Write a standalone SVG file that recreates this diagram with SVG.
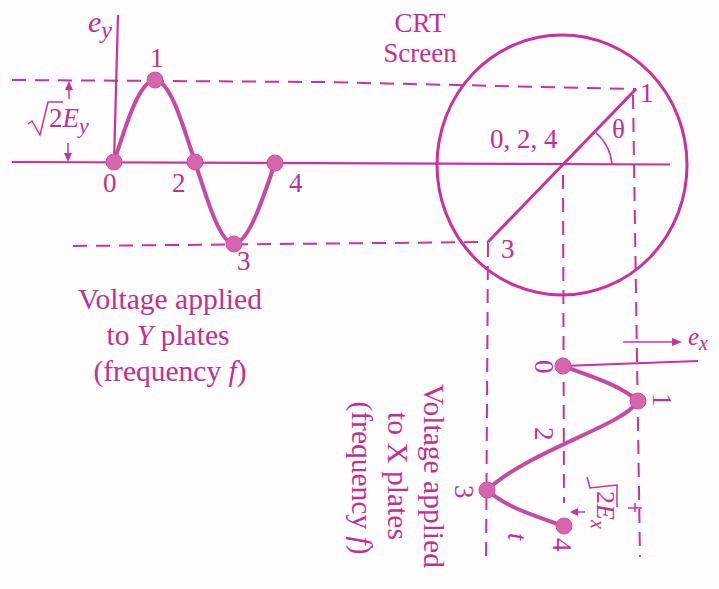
<svg xmlns="http://www.w3.org/2000/svg" width="719" height="589" viewBox="0 0 719 589">
<style>
text{font-family:"Liberation Serif",serif;fill:#c03090;font-size:27px}
.i{font-style:italic}
.m{text-anchor:middle}
.b{font-size:29.500px}
.l{fill:none;stroke:#c9329a;stroke-width:2.2}
.t{fill:none;stroke:#c9329a;stroke-width:1.5}
.d{fill:none;stroke:#c9329a;stroke-width:2;stroke-dasharray:14 9}
.w{fill:none;stroke:#c74aa2;stroke-width:4}
.c{fill:#d765ac;stroke:#cf4fa3;stroke-width:1}
.h{fill:#c9329a}
</style>
<rect width="719" height="589" fill="#fffdfe"/>
<g id="connectors">
<path class="l" d="M12 162L670 164.500"/>
<path class="l" d="M118 15L114 162"/>
<path class="d" d="M12 80L320 82L636 89"/>
<path class="d" d="M73 246L488 242"/>
<path class="d" d="M488 243L486 565"/>
<path class="d" d="M563 175L564 503"/>
<path class="d" d="M633 95L640 557"/>
<path class="l" style="stroke-width:3" d="M636 89L488 242"/>
<path class="t" d="M596 133A47 47 0 0 1 612 164"/>
<path class="t" d="M69 99V84M68 143V160"/>
<path class="h" d="M69 81l-4 9h8zM68 162l-4-9h8z"/>
<path class="t" d="M623 342H674"/>
<path class="h" d="M682 342l-10-4v8z"/>
<path class="l" d="M563 366L698 361"/>
<path class="t" d="M575 512H585M628 508h14M635 503v9"/>
<path class="h" d="M570 512l8-4v8z"/>
</g>
<g id="crt-screen">
<ellipse class="l" style="stroke-width:3" cx="562" cy="165" rx="125" ry="130"/>
<text class="m" x="420" y="32">CRT</text>
<text class="m" x="420" y="62">Screen</text>
<text x="490" y="148">0, 2, 4</text>
<text x="612" y="138">θ</text>
<text x="640" y="102">1</text>
<text x="501" y="258">3</text>
</g>
<g id="y-wave">
<path class="w" d="M114 162C128 118 140 81 155 80C170 81 182 122 195 162C208 202 220 243 234 244C248 243 262 202 275 163"/>
<circle class="c" cx="114" cy="162" r="8"/>
<circle class="c" cx="155" cy="80" r="8"/>
<circle class="c" cx="195" cy="162" r="8"/>
<circle class="c" cx="234" cy="244" r="8"/>
<circle class="c" cx="275" cy="163" r="8"/>
<text x="103" y="192">0</text>
<text x="150" y="67">1</text>
<text x="172" y="192">2</text>
<text x="237" y="270">3</text>
<text x="289" y="192">4</text>
<text class="i" x="88" y="32" style="font-size:30px">e<tspan dy="6" style="font-size:24px">y</tspan></text>
<text x="49" y="127"><tspan>2</tspan><tspan class="i">E</tspan><tspan class="i" dy="6" style="font-size:22px">y</tspan></text>
<path class="t" d="M28 124l4-3 8 14 8-33h15"/>
</g>
<g id="y-label">
<text class="m b" x="170" y="309">Voltage applied</text>
<text class="m b" x="168" y="345">to <tspan class="i">Y</tspan> plates</text>
<text class="m b" x="170" y="381">(frequency <tspan class="i">f</tspan>)</text>
</g>
<g id="x-wave">
<path class="w" d="M563 366C590 376 620 385 638 401C625 425 530 450 487 490C510 510 540 517 563 526"/>
<circle class="c" cx="563" cy="366" r="8"/>
<circle class="c" cx="638" cy="401" r="8"/>
<circle class="c" cx="487" cy="490" r="8"/>
<circle class="c" cx="564" cy="526" r="8"/>
<text transform="translate(535 360) rotate(90)">0</text>
<text transform="translate(653 393) rotate(90)">1</text>
<text transform="translate(535 427) rotate(90)">2</text>
<text transform="translate(455 485) rotate(90)">3</text>
<text transform="translate(553 538) rotate(90)">4</text>
<text class="i" transform="translate(508 533) rotate(90)">t</text>
<text class="i" transform="translate(688 345)" style="font-size:25px">e<tspan dy="5" style="font-size:20px">x</tspan></text>
<text transform="translate(597 491) rotate(90)" style="font-size:26px"><tspan>2</tspan><tspan class="i">E</tspan><tspan class="i" dy="6" style="font-size:20px">x</tspan></text>
<path class="t" d="M587 477l3 11 27-3v22"/>
</g>
<g id="x-label">
<text class="m b" transform="translate(424 476) rotate(90)">Voltage applied</text>
<text class="m b" transform="translate(388 476) rotate(90)">to X plates</text>
<text class="m b" transform="translate(352 478) rotate(90)">(frequency <tspan class="i">f</tspan>)</text>
</g>
</svg>
